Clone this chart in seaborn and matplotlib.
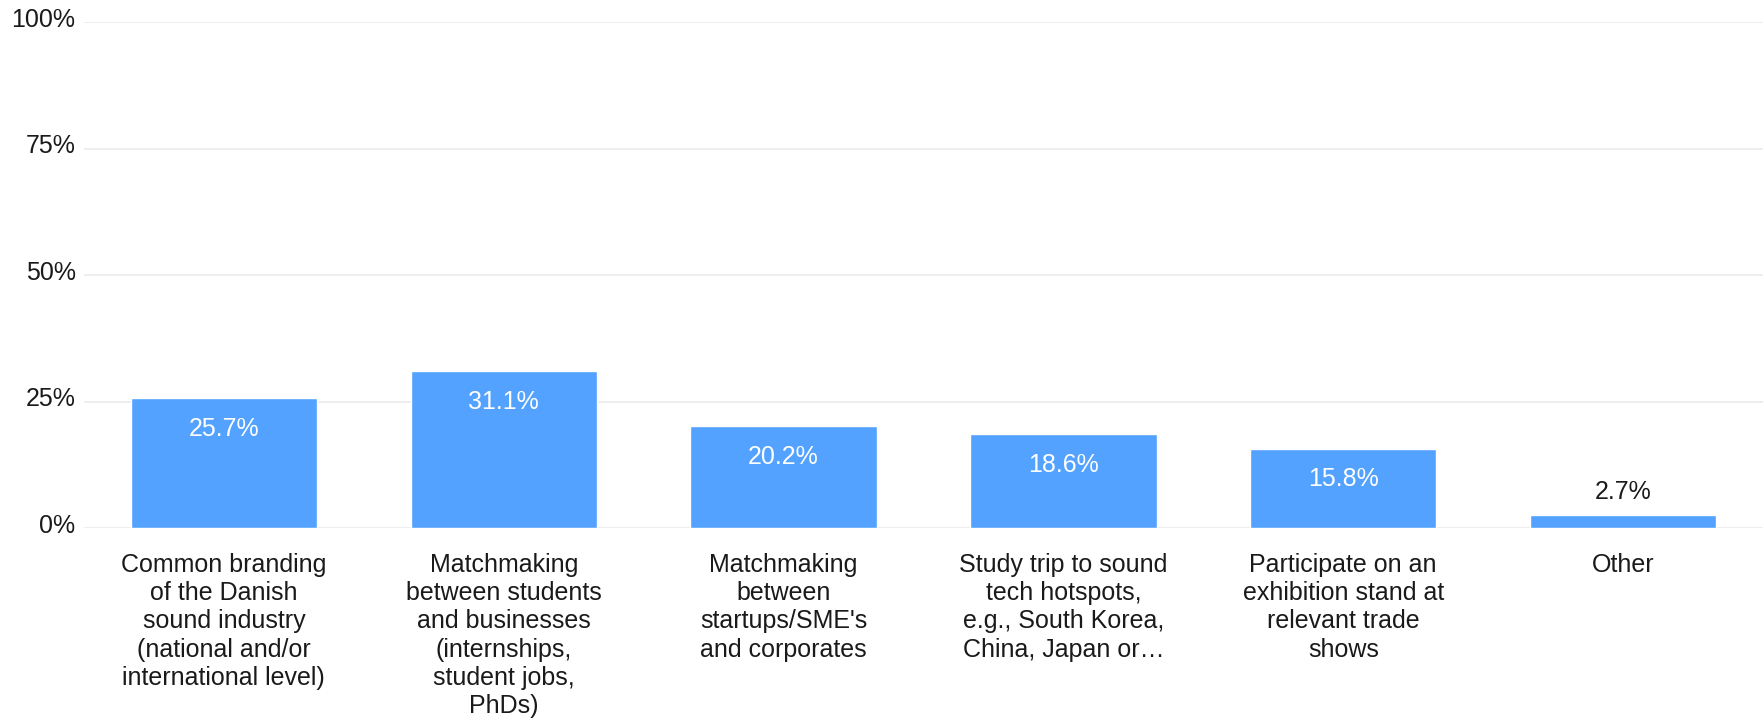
import matplotlib
matplotlib.use("Agg")
import matplotlib.pyplot as plt
import matplotlib.transforms as mtransforms
import seaborn as sns
import pandas as pd

categories = [
    "Common branding\nof the Danish\nsound industry\n(national and/or\ninternational level)",
    "Matchmaking\nbetween students\nand businesses\n(internships,\nstudent jobs,\nPhDs)",
    "Matchmaking\nbetween\nstartups/SME's\nand corporates",
    "Study trip to sound\ntech hotspots,\ne.g., South Korea,\nChina, Japan or\u2026",
    "Participate on an\nexhibition stand at\nrelevant trade\nshows",
    "Other",
]
values = [25.7, 31.1, 20.2, 18.6, 15.8, 2.7]
yticks = [0, 25, 50, 75, 100]
ytick_labels = ["0%", "25%", "50%", "75%", "100%"]

bar_color = "#53A2FF"
text_color = "#1a1a1a"

sns.set_theme(style="white")
plt.rcParams["font.family"] = ["Liberation Sans", "DejaVu Sans"]

df = pd.DataFrame({"category": categories, "value": values})

fig = plt.figure(figsize=(17.63, 7.21), dpi=100)
ax = fig.add_axes([0.0476, 0.267, 0.9524, 0.7018])

sns.barplot(data=df, x="category", y="value", color=bar_color,
            saturation=1, width=0.666, ax=ax, zorder=3)

ax.set_ylim(0, 100)
ax.set_xlim(-0.5, len(categories) - 0.5)
ax.set_yticks(yticks)
ax.set_yticklabels(ytick_labels, fontsize=18, color=text_color)
ax.grid(axis="y", color="#ebebeb", linewidth=1.2, zorder=0)
ax.grid(axis="x", visible=False)
ax.set_axisbelow(True)
for s in ax.spines.values():
    s.set_visible(False)
ax.tick_params(axis="y", length=0, pad=6)
ax.tick_params(axis="x", length=0, pad=17.5)
ax.set_xlabel("")
ax.set_ylabel("")

ax.set_xticks(range(len(categories)))
ax.set_xticklabels(categories, fontsize=18, color=text_color,
                   linespacing=1.225, va="top", ha="center")

# lift the y tick labels slightly above their gridlines
shift = mtransforms.ScaledTranslation(0, 5 / 100, fig.dpi_scale_trans)
for lab in ax.get_yticklabels():
    lab.set_transform(lab.get_transform() + shift)

# value labels: inside the bar in white, above short bars in dark text
for i, v in enumerate(values):
    label = f"{v:.1f}%"
    if v >= 5:
        ax.annotate(label, xy=(i, v), xytext=(0, -13.5), textcoords="offset points",
                    ha="center", va="top", fontsize=18, color="white")
    else:
        ax.annotate(label, xy=(i, v), xytext=(0, 8), textcoords="offset points",
                    ha="center", va="bottom", fontsize=18, color=text_color)

fig.savefig("out.png", dpi=100, facecolor="white")
